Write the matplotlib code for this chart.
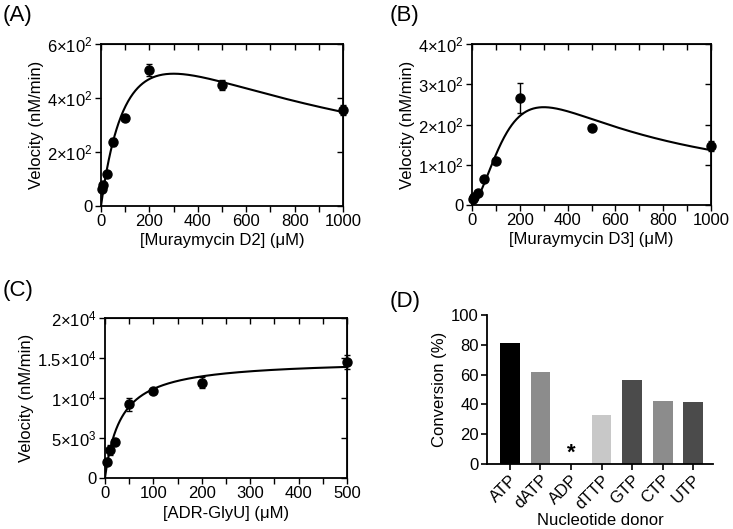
import numpy as np
import matplotlib
matplotlib.use("Agg")
import matplotlib.pyplot as plt
from matplotlib.ticker import MultipleLocator, NullFormatter

plt.rcParams["font.family"] = ["Liberation Sans", "DejaVu Sans"]
plt.rcParams["mathtext.fontset"] = "custom"
plt.rcParams["mathtext.rm"] = "Liberation Sans"
plt.rcParams["mathtext.it"] = "Liberation Sans"

# (A) Muraymycin D2
a_conc = [5, 10, 25, 50, 100, 200, 500, 1000]
a_vel = [62, 76, 118, 238, 327, 503, 448, 355]
a_err = [4, 10, 5, 14, 5, 23, 20, 18]
a_fit = (980.0, 150.0, 600.0)  # Vmax, Km, Ki (substrate inhibition)

# (B) Muraymycin D3
b_conc = [5, 10, 25, 50, 100, 200, 500, 1000]
b_vel = [14, 20, 30, 65, 110, 265, 192, 146]
b_err = [3, 3, 3, 3, 3, 37, 3, 12]
b_fit = (918.0, 5773.0, 180.0, 1.5)  # Vmax, K^h, Ki, h

# (C) ADR-GlyU
c_conc = [5, 10, 20, 50, 100, 200, 500]
c_vel = [2000, 3500, 4500, 9200, 10900, 11900, 14500]
c_err = [200, 650, 200, 800, 150, 700, 900]
c_fit = (14800.0, 33.0)  # Vmax, Km

# (D) nucleotide donors
donors = ["ATP", "dATP", "ADP", "dTTP", "GTP", "CTP", "UTP"]
conversion = [81, 61.5, 0, 33, 56.5, 42.5, 41.5]
bar_colors = ["#000000", "#8c8c8c", "#8c8c8c", "#c8c8c8", "#4b4b4b", "#8c8c8c", "#4b4b4b"]

FS = 12


def mirror_ticks(ax, xminor, yticks):
    # GraphPad-style: ticks out on left/bottom, mirrored inward on top/right
    top = ax.secondary_xaxis("top")
    top.xaxis.set_major_locator(MultipleLocator(xminor))
    top.tick_params(direction="in", length=4, width=1, color="black", labeltop=False)
    top.xaxis.set_major_formatter(NullFormatter())
    right = ax.secondary_yaxis("right")
    right.set_yticks(yticks)
    right.tick_params(direction="in", length=4, width=1, color="black", labelright=False)
    right.yaxis.set_major_formatter(NullFormatter())


def draw_kinetics(ax, x, y, e, xs, ys, xmax, ymax, xstep, xminor, yticks, ylabels, xlabel):
    ax.plot(xs, ys, color="black", lw=1.5)
    ax.errorbar(x, y, yerr=e, fmt="o", color="black", ms=6.5, capsize=2.5,
                elinewidth=1, capthick=1, clip_on=False, zorder=3)
    ax.set_xlim(0, xmax)
    ax.set_ylim(0, ymax)
    ax.xaxis.set_major_locator(MultipleLocator(xstep))
    ax.xaxis.set_minor_locator(MultipleLocator(xminor))
    ax.set_yticks(yticks)
    ax.set_yticklabels(ylabels)
    ax.set_xlabel(xlabel, fontsize=FS, labelpad=3)
    ax.set_ylabel("Velocity (nM/min)", fontsize=FS, labelpad=2)
    ax.tick_params(which="both", direction="out", length=4, width=1, labelsize=FS, pad=2)
    for sp in ax.spines.values():
        sp.set_linewidth(1.3)
    mirror_ticks(ax, xminor, yticks)


fig = plt.figure(figsize=(7.33, 5.29), dpi=100)

axA = fig.add_axes([0.1378, 0.6106, 0.3302, 0.3062])
s = np.linspace(0, 1000, 500)
vm, km, ki = a_fit
draw_kinetics(axA, a_conc, a_vel, a_err, s, vm * s / (km + s * (1 + s / ki)),
              1000, 600, 200, 100, [0, 200, 400, 600],
              ["0", r"$2{\times}10^{2}$", r"$4{\times}10^{2}$", r"$6{\times}10^{2}$"],
              "[Muraymycin D2] (\u03bcM)")

axB = fig.add_axes([0.644, 0.6125, 0.326, 0.3043])
s = np.linspace(0.001, 1000, 500)
vm, kh, ki, h = b_fit
draw_kinetics(axB, b_conc, b_vel, b_err, s, vm * s**h / (kh + s**h * (1 + s / ki)),
              1000, 400, 200, 100, [0, 100, 200, 300, 400],
              ["0", r"$1{\times}10^{2}$", r"$2{\times}10^{2}$", r"$3{\times}10^{2}$",
               r"$4{\times}10^{2}$"],
              "[Muraymycin D3] (\u03bcM)")

axC = fig.add_axes([0.1432, 0.0964, 0.3302, 0.3025])
s = np.linspace(0, 500, 500)
vm, km = c_fit
draw_kinetics(axC, c_conc, c_vel, c_err, s, vm * s / (km + s),
              500, 20000, 100, 50, [0, 5000, 10000, 15000, 20000],
              ["0", r"$5{\times}10^{3}$", r"$1{\times}10^{4}$", r"$1.5{\times}10^{4}$",
               r"$2{\times}10^{4}$"],
              "[ADR-GlyU] (\u03bcM)")

axD = fig.add_axes([0.6644, 0.1229, 0.3083, 0.2816])
pos = np.arange(len(donors))
axD.bar(pos, conversion, width=0.65, color=bar_colors)
axD.text(pos[2], 0.5, "*", ha="center", va="bottom", fontsize=16, fontweight="bold")
axD.set_xlim(-0.75, 6.65)
axD.set_ylim(0, 100)
axD.set_yticks([0, 20, 40, 60, 80, 100])
axD.set_xticks(pos)
axD.set_xticklabels(donors, rotation=45, ha="right", rotation_mode="anchor")
axD.tick_params(labelsize=FS, length=4, width=1.2, pad=2)
axD.spines["top"].set_visible(False)
axD.spines["right"].set_visible(False)
axD.spines["left"].set_linewidth(1.3)
axD.spines["bottom"].set_linewidth(1.3)
axD.set_ylabel("Conversion (%)", fontsize=FS, labelpad=3)
axD.set_xlabel("Nucleotide donor", fontsize=FS, labelpad=1)

fig.text(0.003, 0.99, "(A)", fontsize=16, va="top")
fig.text(0.532, 0.99, "(B)", fontsize=16, va="top")
fig.text(0.003, 0.47, "(C)", fontsize=16, va="top")
fig.text(0.532, 0.45, "(D)", fontsize=16, va="top")

fig.savefig("out.png", dpi=100)
